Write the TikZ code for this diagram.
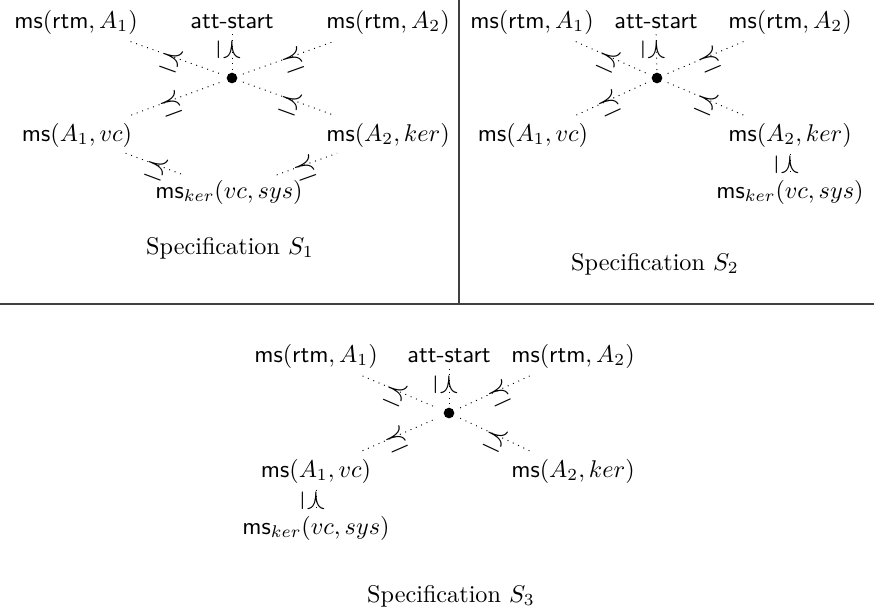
\documentclass[tikz,border=0pt]{standalone}
\usetikzlibrary{calc}
\newcommand\rl{\raisebox{-4.2pt}{\scalebox{1.2}{$\preceq$}}}
\newcommand\relEdge[5]{%
  \pgfmathsetmacro\rpos{(#5-#3)/(#4-#3)}%
  \draw[conn] ($(#1)!#3!(#2)$) -- node[rel,sloped,pos=\rpos]{\rl} ($(#1)!#4!(#2)$);}
\newcommand\vertEdge[5]{%
  \pgfmathsetmacro\rpos{(#5-#3)/(#4-#3)}%
  \draw[conn] ($(#1)!#3!(#2)$) -- node[rel,rotate=-90,pos=\rpos]{\rl} ($(#1)!#4!(#2)$);}
\begin{document}
\begin{tikzpicture}[x=0.413pt,y=-0.413pt,
  lbl/.style={inner sep=0pt},
  conn/.style={dotted,line width=0.4pt},
  rel/.style={inner sep=0pt,anchor=base},
  hub/.style={circle,fill=black,inner sep=0pt,minimum size=4.4pt},
  sep/.style={line width=0.5pt,black!75},
  title/.style={inner sep=0pt}]
\useasboundingbox (0,0) rectangle (874,612);
% separators
\coordinate (vt) at (459,0);
\coordinate (vb) at (459,304);
\coordinate (hl) at (0,304);
\coordinate (hr) at (874,304);
\draw[sep] (vt) -- (vb);
\draw[sep] (hl) -- (hr);

% ---------- Specification S1 ----------
\node[lbl] (a1) at (76,22) {$\textsf{ms}(\textsf{rtm}, A_1)$};
\node[lbl] (a0) at (232,22) {\textsf{att-start}};
\node[lbl] (a2) at (388,22) {$\textsf{ms}(\textsf{rtm}, A_2)$};
\node[hub] (ad) at (232,78) {};
\node[lbl] (a3) at (77,135) {$\textsf{ms}(A_1, vc)$};
\node[lbl] (a4) at (388,135) {$\textsf{ms}(A_2, ker)$};
\node[lbl] (a5) at (229,192) {$\textsf{ms}_{ker}(vc, sys)$};
\node[title] (t1) at (230,248) {Specification $S_1$};
\relEdge{a1}{ad}{0.35}{0.93}{0.62}
\relEdge{ad}{a2}{0.07}{0.65}{0.38}
\vertEdge{a0}{ad}{0.22}{0.89}{0.5}
\relEdge{a3}{ad}{0.35}{0.93}{0.60}
\relEdge{ad}{a4}{0.07}{0.65}{0.38}
\relEdge{a3}{a5}{0.32}{0.70}{0.53}
\relEdge{a5}{a4}{0.30}{0.68}{0.47}

% ---------- Specification S2 ----------
\node[lbl] (b1) at (532,22) {$\textsf{ms}(\textsf{rtm}, A_1)$};
\node[lbl] (b0) at (656,22) {\textsf{att-start}};
\node[lbl] (b2) at (790,22) {$\textsf{ms}(\textsf{rtm}, A_2)$};
\node[hub] (bd) at (657,78) {};
\node[lbl] (b3) at (533,135) {$\textsf{ms}(A_1, vc)$};
\node[lbl] (b4) at (790,135) {$\textsf{ms}(A_2, ker)$};
\node[lbl] (b5) at (790,192) {$\textsf{ms}_{ker}(vc, sys)$};
\node[title] (t2) at (655,264) {Specification $S_2$};
\relEdge{b1}{bd}{0.35}{0.92}{0.62}
\relEdge{bd}{b2}{0.08}{0.65}{0.38}
\vertEdge{b0}{bd}{0.22}{0.89}{0.5}
\relEdge{b3}{bd}{0.35}{0.92}{0.60}
\relEdge{bd}{b4}{0.08}{0.65}{0.38}
\vertEdge{b4}{b5}{0.33}{0.69}{0.52}

% ---------- Specification S3 ----------
\node[lbl] (c1) at (316,356) {$\textsf{ms}(\textsf{rtm}, A_1)$};
\node[lbl] (c0) at (449,356) {\textsf{att-start}};
\node[lbl] (c2) at (573,356) {$\textsf{ms}(\textsf{rtm}, A_2)$};
\node[hub] (cd) at (449,413) {};
\node[lbl] (c3) at (316,471) {$\textsf{ms}(A_1, vc)$};
\node[lbl] (c4) at (573,471) {$\textsf{ms}(A_2, ker)$};
\node[lbl] (c5) at (316,528) {$\textsf{ms}_{ker}(vc, sys)$};
\node[title] (t3) at (451,596) {Specification $S_3$};
\relEdge{c1}{cd}{0.35}{0.91}{0.61}
\relEdge{cd}{c2}{0.09}{0.65}{0.39}
\vertEdge{c0}{cd}{0.22}{0.89}{0.5}
\relEdge{c3}{cd}{0.35}{0.91}{0.59}
\relEdge{cd}{c4}{0.09}{0.65}{0.39}
\vertEdge{c3}{c5}{0.33}{0.69}{0.52}
\end{tikzpicture}
\end{document}
